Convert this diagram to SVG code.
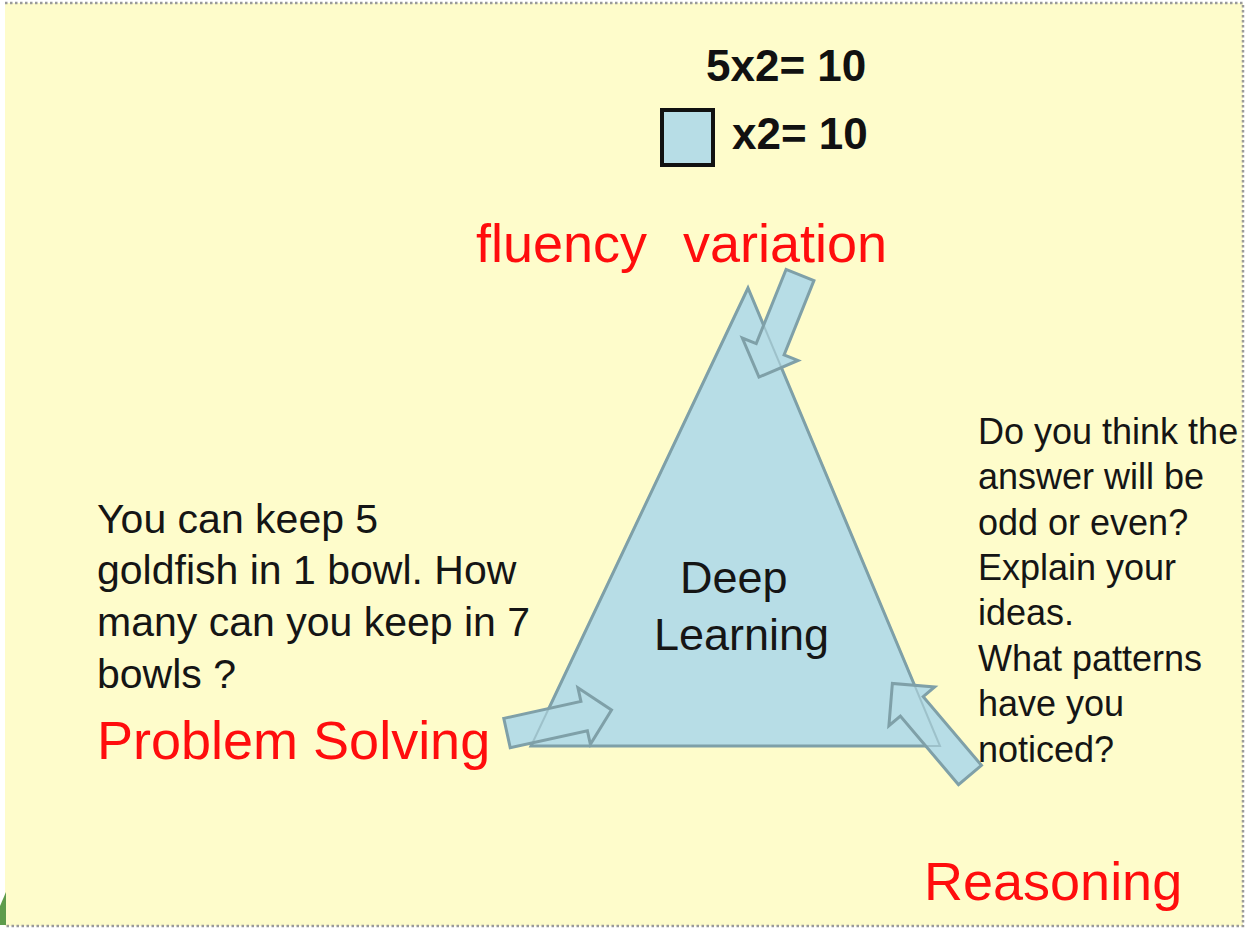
<svg xmlns="http://www.w3.org/2000/svg" width="1247" height="929" viewBox="0 0 1247 929">
<style>
.blk{font-family:"Liberation Sans",Arial,sans-serif;fill:#151515}
.bold{font-family:"Liberation Sans",Arial,sans-serif;font-weight:bold;fill:#111}
.red{font-family:"Liberation Sans",Arial,sans-serif;fill:#ff0d0d;font-size:54px}
.shape{fill:#b7dde6;stroke:#7fa0a8;stroke-width:3;stroke-linejoin:miter}
.border{stroke:#9a9a9a;stroke-width:2.5;stroke-dasharray:2.5 2.5;fill:none}
</style>
<defs>
<path id="arr" d="M0,-15 L80,-15 L80,-30 L110,0 L80,30 L80,15 L0,15 Z"/>
</defs>
<rect x="0" y="0" width="1247" height="929" fill="#ffffff"/>
<rect x="5" y="3" width="1238" height="923" fill="#fefccb"/>
<path class="border" d="M5,3 H1243 V926 H5"/>
<polygon points="0,906 6,892 6,925 0,925" fill="#5e9c4c"/>

<g id="equations">
<text class="bold" x="706" y="81" font-size="44">5x2= 10</text>
<rect x="662" y="110" width="51" height="55" fill="#b7dde6" stroke="#111" stroke-width="4"/>
<text class="bold" x="732" y="149" font-size="44">x2= 10</text>
</g>

<g id="label-fluency">
<text class="red" x="476" y="262">fluency<tspan x="683">variation</tspan></text>
</g>

<g id="deep-learning">
<polygon class="shape" points="748,288 531,746 940,746"/>
<text class="blk" x="680" y="593" font-size="45">Deep</text>
<text class="blk" x="654" y="650" font-size="45">Learning</text>
</g>

<g id="connectors">
<use href="#arr" class="shape" transform="translate(800,275) rotate(111.9)"/>
<path d="M0,-15 L79,-15 L79,-29 L107,0 L79,29 L79,15 L0,15 Z" class="shape" transform="translate(507,733) rotate(-12.4)"/>
<path d="M0,-15 L90,-15 L90,-30 L120,0 L90,30 L90,15 L0,15 Z" class="shape" transform="translate(970,775) rotate(-130.3)"/>
<polygon points="748,288 531,746 940,746" fill="none" stroke="#7fa0a8" stroke-width="2" stroke-opacity="0.45"/>
</g>

<g id="problem-solving">
<text class="blk" font-size="41">
<tspan x="97" y="533">You can keep 5</tspan>
<tspan x="97" y="584">goldfish in 1 bowl. How</tspan>
<tspan x="97" y="636">many can you keep in 7</tspan>
<tspan x="97" y="688">bowls ?</tspan>
</text>
<text class="red" x="97" y="759">Problem Solving</text>
</g>

<g id="reasoning">
<text class="blk" font-size="36">
<tspan x="978" y="444">Do you think the</tspan>
<tspan x="978" y="489">answer will be</tspan>
<tspan x="978" y="535">odd or even?</tspan>
<tspan x="978" y="580">Explain your</tspan>
<tspan x="978" y="625">ideas.</tspan>
<tspan x="978" y="671">What patterns</tspan>
<tspan x="978" y="716">have you</tspan>
<tspan x="978" y="762">noticed?</tspan>
</text>
<text class="red" x="924" y="900">Reasoning</text>
</g>
</svg>
